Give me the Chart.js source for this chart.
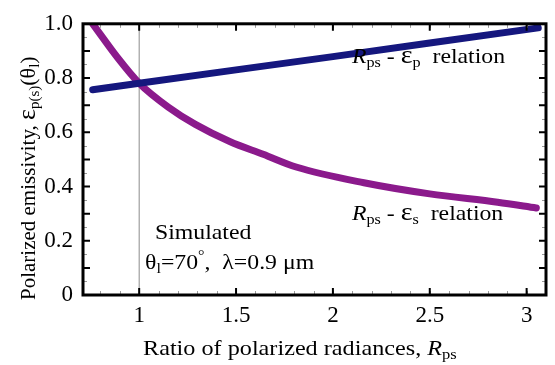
<!DOCTYPE html>
<html>
<head>
<meta charset="utf-8">
<script src="https://cdn.jsdelivr.net/npm/chart.js@4.4.0/dist/chart.umd.min.js"></script>
<style>
  html, body { margin: 0; padding: 0; background: #fff; }
  canvas { display: block; }
</style>
</head>
<body>
<canvas id="chart" width="555" height="365"></canvas>
<script>
// data
var rpsP = [0.76, 1.0, 1.5, 2.0, 2.5, 3.06];
var epsP = [0.757, 0.781, 0.830, 0.879, 0.929, 0.985];

var rpsS = [0.76, 0.89, 1.0, 1.15, 1.29, 1.47, 1.64, 1.81, 2.16, 2.5, 2.85, 3.05];
var epsS = [1.0, 0.874, 0.781, 0.693, 0.629, 0.565, 0.519, 0.472, 0.414, 0.373, 0.342, 0.321];

var xTicks = [1, 1.5, 2, 2.5, 3];
var yTicks = [0, 0.2, 0.4, 0.6, 0.8, 1.0];
var refX = 1;

var SERIF = '"Liberation Serif", "Times New Roman", serif';

function pts(xs, ys) {
  return xs.map(function(x, i) { return {x: x, y: ys[i]}; });
}

// draw text made of pieces (normal / italic / subscript), sx = horizontal stretch
function richText(ctx, x, y, parts, sx) {
  sx = sx || 1;
  ctx.save();
  ctx.translate(x, y);
  ctx.scale(sx, 1);
  var cx = 0;
  parts.forEach(function(p) {
    ctx.font = (p.italic ? 'italic ' : '') + p.size + 'px ' + SERIF;
    ctx.fillText(p.t, cx, p.dy || 0);
    cx += ctx.measureText(p.t).width;
  });
  ctx.restore();
}

var framePlugin = {
  id: 'frame',
  beforeDatasetsDraw: function(chart) {
    var ctx = chart.ctx, a = chart.chartArea;
    var px = chart.scales.x.getPixelForValue(refX);
    ctx.save();
    ctx.strokeStyle = '#8c8c8c';
    ctx.lineWidth = 1;
    ctx.beginPath();
    ctx.moveTo(px, a.top);
    ctx.lineTo(px, a.bottom);
    ctx.stroke();
    ctx.restore();
  },
  afterDatasetsDraw: function(chart) {
    var ctx = chart.ctx, a = chart.chartArea;
    var xs = chart.scales.x, ys = chart.scales.y;
    ctx.save();
    // minor ticks
    ctx.strokeStyle = '#9a9a9a';
    ctx.lineWidth = 1;
    ctx.beginPath();
    for (var v = 0.8; v <= 3.1001; v += 0.1) {
      var p = Math.round(xs.getPixelForValue(v)) + 0.5;
      ctx.moveTo(p, a.bottom); ctx.lineTo(p, a.bottom - 4);
      ctx.moveTo(p, a.top); ctx.lineTo(p, a.top + 4);
    }
    for (var w = 0.05; w < 1; w += 0.1) {
      var q = Math.round(ys.getPixelForValue(w)) + 0.5;
      ctx.moveTo(a.left, q); ctx.lineTo(a.left + 4, q);
      ctx.moveTo(a.right, q); ctx.lineTo(a.right - 4, q);
    }
    ctx.stroke();
    // major ticks
    ctx.strokeStyle = '#000';
    ctx.lineWidth = 2;
    ctx.beginPath();
    xTicks.forEach(function(v) {
      var p = xs.getPixelForValue(v);
      ctx.moveTo(p, a.bottom); ctx.lineTo(p, a.bottom - 7);
      ctx.moveTo(p, a.top); ctx.lineTo(p, a.top + 7);
    });
    for (var k = 1; k < 10; k++) {
      var q2 = ys.getPixelForValue(k / 10);
      ctx.moveTo(a.left, q2); ctx.lineTo(a.left + 7, q2);
      ctx.moveTo(a.right, q2); ctx.lineTo(a.right - 7, q2);
    }
    ctx.stroke();
    // frame
    ctx.lineWidth = 3;
    ctx.strokeRect(a.left, a.top, a.right - a.left, a.bottom - a.top);
    ctx.restore();
  },
  afterDraw: function(chart) {
    var ctx = chart.ctx;
    var S = 1.08;
    ctx.save();
    ctx.fillStyle = '#000';
    ctx.textBaseline = 'alphabetic';
    ctx.textAlign = 'left';

    richText(ctx, 352, 63, [
      {t: 'R', size: 22, italic: true},
      {t: 'ps', size: 15, dy: 4},
      {t: ' - ', size: 22},
      {t: 'ε', size: 26},
      {t: 'p', size: 15, dy: 4},
      {t: '  relation', size: 22}
    ], S);
    richText(ctx, 352, 220, [
      {t: 'R', size: 22, italic: true},
      {t: 'ps', size: 15, dy: 4},
      {t: ' - ', size: 22},
      {t: 'ε', size: 26},
      {t: 's', size: 15, dy: 4},
      {t: '  relation', size: 22}
    ], S);
    richText(ctx, 155, 239, [{t: 'Simulated', size: 22}], S);
    richText(ctx, 145, 269, [
      {t: 'θ', size: 22},
      {t: 'l', size: 15, dy: 4},
      {t: '=70', size: 22},
      {t: '°', size: 15, dy: -9},
      {t: ',  λ=0.9 μm', size: 22}
    ], S);

    // x axis title
    richText(ctx, 143, 355, [
      {t: 'Ratio of polarized radiances, ', size: 22},
      {t: 'R', size: 22, italic: true},
      {t: 'ps', size: 15, dy: 4}
    ], 1.1);

    // y axis title, rotated
    ctx.translate(35, 300);
    ctx.rotate(-Math.PI / 2);
    richText(ctx, 0, 0, [
      {t: 'Polarized emissivity, ', size: 21},
      {t: 'ε', size: 26},
      {t: 'p(s)', size: 15, dy: 4},
      {t: '(θ', size: 22},
      {t: 'l', size: 15, dy: 4},
      {t: ')', size: 22}
    ]);
    ctx.restore();
  }
};

new Chart(document.getElementById('chart'), {
  type: 'scatter',
  data: {
    datasets: [
      {
        data: pts(rpsP, epsP),
        showLine: true,
        borderColor: '#15177e',
        borderWidth: 7,
        pointRadius: 0,
        borderCapStyle: 'round'
      },
      {
        data: pts(rpsS, epsS),
        showLine: true,
        borderColor: '#8b1a8c',
        borderWidth: 7,
        pointRadius: 0,
        cubicInterpolationMode: 'monotone',
        borderCapStyle: 'round'
      }
    ]
  },
  options: {
    responsive: false,
    devicePixelRatio: 1,
    animation: false,
    layout: { padding: { top: 9, right: 9, left: 0, bottom: 0 } },
    plugins: { legend: { display: false }, tooltip: { enabled: false } },
    scales: {
      x: {
        type: 'linear',
        min: 0.71,
        max: 3.10,
        grid: { display: false, drawTicks: false },
        border: { display: false },
        afterBuildTicks: function(s) { s.ticks = xTicks.map(function(v) { return {value: v}; }); },
        afterFit: function(s) { s.height = 70; },
        ticks: {
          padding: 7,
          color: '#000',
          font: { family: SERIF, size: 23 },
          callback: function(v) { return String(v); }
        }
      },
      y: {
        min: 0,
        max: 1,
        grid: { display: false, drawTicks: false },
        border: { display: false },
        afterBuildTicks: function(s) { s.ticks = yTicks.map(function(v) { return {value: v}; }); },
        afterFit: function(s) { s.width = 83; },
        ticks: {
          padding: 10,
          color: '#000',
          font: { family: SERIF, size: 23 },
          callback: function(v) { return v === 0 ? '0' : v.toFixed(1); }
        }
      }
    }
  },
  plugins: [framePlugin]
});
</script>
</body>
</html>
